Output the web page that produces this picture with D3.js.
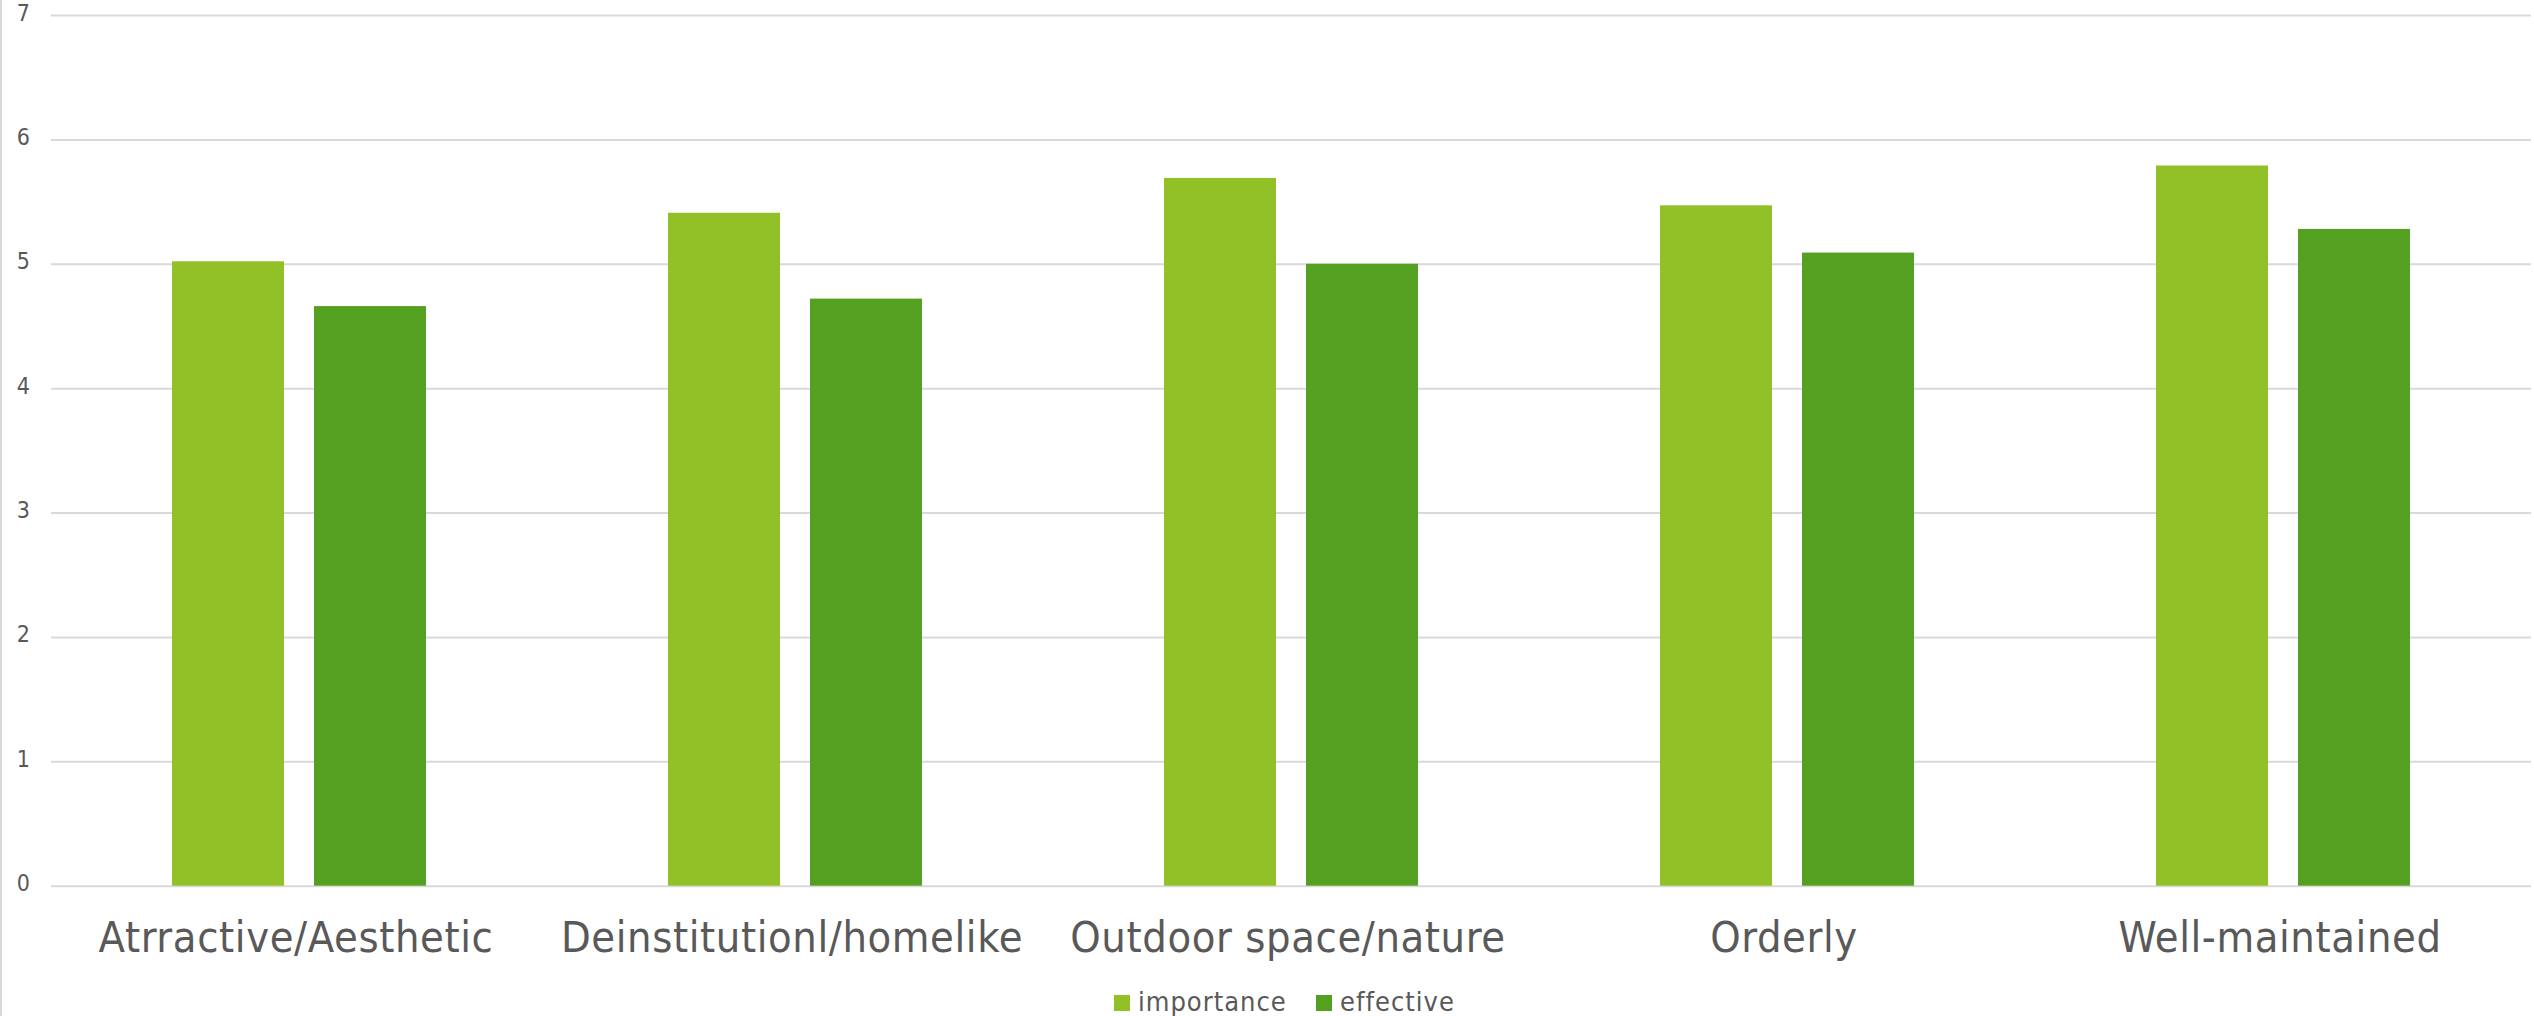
<!DOCTYPE html>
<html>
<head>
<meta charset="utf-8">
<script src="https://cdn.jsdelivr.net/npm/d3@7"></script>
<style>
  html, body { margin: 0; padding: 0; background: #fff; }
  svg { display: block; }
  text { font-family: "DejaVu Sans Condensed", "DejaVu Sans", sans-serif; font-stretch: condensed; fill: #595959; }
</style>
</head>
<body>
<script>
// Survey ratings per environment attribute
const categories = ["Atrractive/Aesthetic", "Deinstitutionl/homelike", "Outdoor space/nature", "Orderly", "Well-maintained"];
const seriesNames = ["importance", "effective"];
const importance = [5.02, 5.41, 5.69, 5.47, 5.79];
const effective = [4.66, 4.72, 5.00, 5.09, 5.28];
const yTicks = [0, 1, 2, 3, 4, 5, 6, 7];
const colors = ["#92c127", "#54a122"];

const W = 2534, H = 1016;
const plot = { left: 51, right: 2531, top: 15, bottom: 885.7 };

const svg = d3.select("body").append("svg").attr("width", W).attr("height", H);

const y = d3.scaleLinear().domain([0, 7]).range([plot.bottom, plot.top]);
const x0 = d3.scaleBand().domain(categories).range([plot.left, plot.right])
  .paddingInner(0.488).paddingOuter(0.244);
const x1 = d3.scaleBand().domain(seriesNames).range([0, x0.bandwidth()])
  .paddingInner(0.2113).paddingOuter(0);
const color = d3.scaleOrdinal().domain(seriesNames).range(colors);

// chart-area left edge
svg.append("line").attr("x1", 1).attr("x2", 1).attr("y1", 0).attr("y2", H)
  .attr("stroke", "#d9d9d9").attr("stroke-width", 2);

// horizontal gridlines and value labels
const yAxis = d3.axisLeft(y).tickValues(yTicks).tickSize(-(plot.right - plot.left)).tickPadding(21).tickFormat(d3.format("d"));
const gy = svg.append("g").attr("transform", `translate(${plot.left},0)`).call(yAxis);
gy.select(".domain").remove();
gy.selectAll(".tick line").attr("stroke", "#d9d9d9").attr("stroke-width", 2);
gy.selectAll(".tick text").attr("font-size", 23).attr("dy", "0.22em")
  .style("font-family", '"DejaVu Sans Condensed", "DejaVu Sans", sans-serif').attr("fill", "#595959");

// bars
const rows = categories.map((c, i) => ({ cat: c, values: [
  { key: "importance", value: importance[i] },
  { key: "effective", value: effective[i] }
]}));

const groups = svg.append("g").selectAll("g").data(rows).join("g")
  .attr("transform", d => `translate(${x0(d.cat)},0)`);
groups.selectAll("rect").data(d => d.values).join("rect")
  .attr("x", d => x1(d.key))
  .attr("width", x1.bandwidth())
  .attr("y", d => y(d.value))
  .attr("height", d => y(0) - y(d.value))
  .attr("fill", d => color(d.key));

// category labels
const xAxis = d3.axisBottom(x0).tickSize(0).tickPadding(0);
const gx = svg.append("g").attr("transform", `translate(0,${plot.bottom})`).call(xAxis);
gx.select(".domain").remove();
gx.selectAll(".tick text").attr("y", 66).attr("dy", 0).attr("font-size", 43)
  .attr("letter-spacing", 0.6).attr("dx", -3)
  .style("font-family", '"DejaVu Sans Condensed", "DejaVu Sans", sans-serif').attr("fill", "#595959");

// legend
const legend = svg.append("g").attr("transform", "translate(1114,1011)");
const legendOffsets = [0, 202];
const items = legend.selectAll("g").data(seriesNames).join("g")
  .attr("transform", (d, i) => `translate(${legendOffsets[i]},0)`);
items.append("rect").attr("x", 0).attr("y", -16).attr("width", 16).attr("height", 16)
  .attr("fill", d => color(d));
items.append("text").attr("x", 24).attr("y", 0).attr("font-size", 27)
  .attr("letter-spacing", 1).text(d => d);
</script>
</body>
</html>
